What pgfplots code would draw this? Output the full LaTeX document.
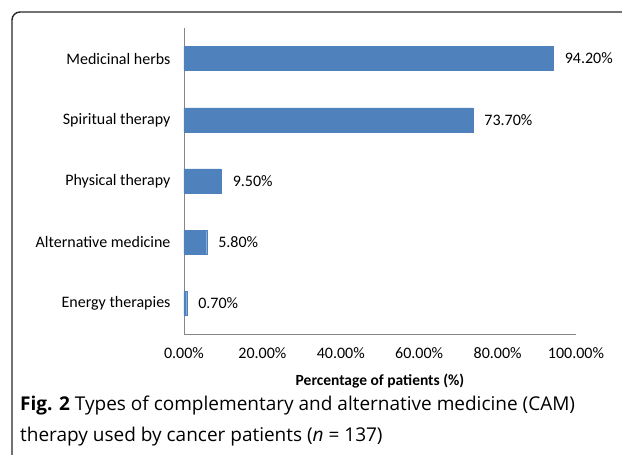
\documentclass[border=0pt]{standalone}
\usepackage{pgfplots}
\pgfplotsset{compat=1.18}
\usepackage{fontspec}
\setmainfont{Carlito}
\newfontfamily\capfont{Open Sans}
\definecolor{barblue}{HTML}{4F81BD}
\definecolor{axisgrey}{HTML}{868686}
\begin{document}
\begin{tikzpicture}[x=1pt,y=1pt]
\useasboundingbox (0,0) rectangle (622,455);
\draw[line width=1.4pt, black!85, rounded corners=8pt] (12,-5) -- (12,443) -- (630,443);
\begin{axis}[
  at={(184pt,121pt)}, anchor=south west,
  scale only axis, width=392pt, height=306pt,
  xbar, bar width=24pt,
  xmin=0, xmax=100, ymin=-0.5, ymax=4.5,
  axis x line*=bottom, axis y line*=left,
  axis line style={axisgrey, line width=0.8pt, -},
  xtick={0,20,40,60,80,100},
  xticklabels={0.00\%,20.00\%,40.00\%,60.00\%,80.00\%,100.00\%},
  ytick={0,1,2,3,4},
  yticklabels={Energy therapies,Alternative medicine,Physical therapy,Spiritual therapy,Medicinal herbs},
  major tick length=0pt,
  tick label style={font=\fontsize{16}{18}\selectfont},
  xticklabel style={yshift=-10pt},
  yticklabel style={xshift=-10pt},
  xlabel={\textbf{Percentage of patients (\%)}},
  xlabel style={font=\fontsize{15.5}{18}\selectfont, yshift=-9pt},
  point meta=explicit symbolic,
  nodes near coords,
  nodes near coords style={font=\fontsize{16}{18}\selectfont, anchor=west, xshift=8pt},
]
\addplot[fill=barblue, draw=barblue] coordinates {
  (0.7,0) [0.70\%]
  (5.8,1) [5.80\%]
  (9.5,2) [9.50\%]
  (73.7,3) [73.70\%]
  (94.2,4) [94.20\%]
};
\end{axis}
\node[anchor=base west, font=\capfont\fontsize{19}{22}\selectfont, inner sep=0pt] at (20,44) {\textbf{Fig. 2} Types of complementary and alternative medicine (CAM)};
\node[anchor=base west, font=\capfont\fontsize{19}{22}\selectfont, inner sep=0pt] at (20,13) {therapy used by cancer patients (\textit{n} = 137)};
\end{tikzpicture}
\end{document}
